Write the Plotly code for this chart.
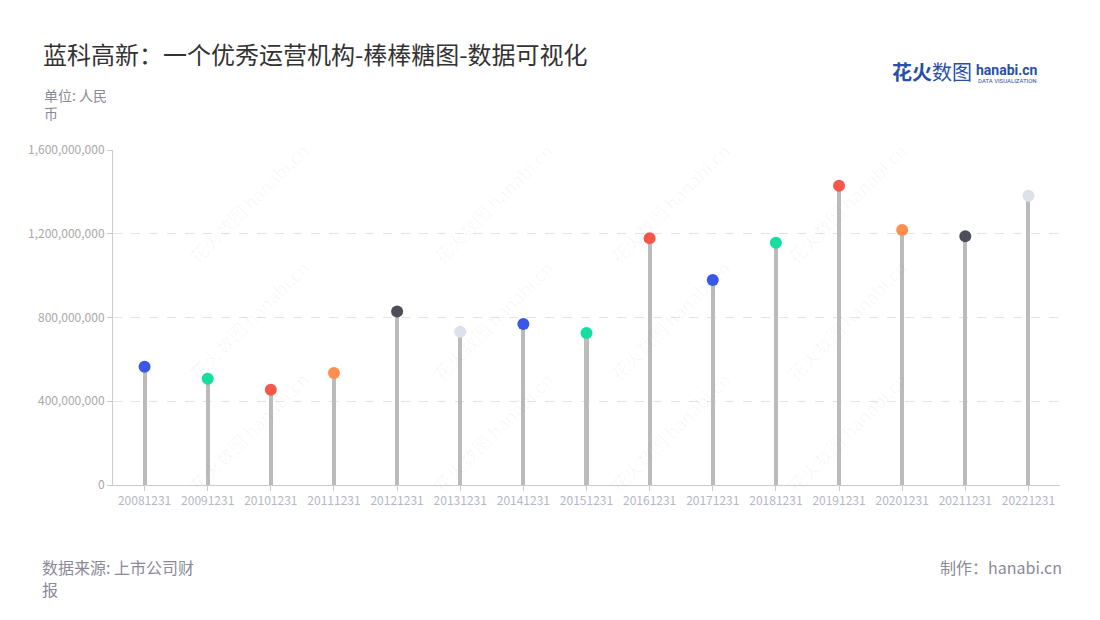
import plotly.graph_objects as go

categories = ["20081231", "20091231", "20101231", "20111231", "20121231", "20131231",
              "20141231", "20151231", "20161231", "20171231", "20181231", "20191231",
              "20201231", "20211231", "20221231"]
values = [565e6, 508e6, 455e6, 535e6, 829e6, 732e6, 769e6, 726e6,
          1178e6, 979e6, 1157e6, 1429e6, 1218e6, 1188e6, 1382e6]
dot_colors = ["#3a58e6", "#14dea0", "#f5574c", "#ff8d4f", "#4d4e58", "#dde1ea",
              "#3a58e6", "#14dea0", "#f5574c", "#3a58e6", "#14dea0", "#f5574c",
              "#ff8d4f", "#4d4e58", "#dde1ea"]
y_ticks = [0, 400e6, 800e6, 1200e6, 1600e6]
y_tick_labels = ["0", "400,000,000", "800,000,000", "1,200,000,000", "1,600,000,000"]

FONT = "Noto Sans CJK SC"

fig = go.Figure()
fig.add_trace(go.Bar(x=categories, y=values, width=0.065,
                     marker=dict(color="#bbbbbb", line=dict(width=0)),
                     hoverinfo="skip", showlegend=False))
fig.add_trace(go.Scatter(x=categories, y=values, mode="markers",
                         marker=dict(size=12, color=dot_colors, line=dict(width=0)),
                         showlegend=False))

# watermarks
wm_x = [0.0708, 0.329, 0.588, 0.847]
wm_y = [1.045, 0.4925, -0.045]
annotations = []
for wy in wm_y:
    for wx in wm_x:
        annotations.append(dict(xref="paper", yref="paper", x=wx, y=wy, text="花火数图 hanabi.cn",
                                showarrow=False, textangle=-45,
                                font=dict(family=FONT, size=18, color="rgba(0,0,0,0.035)")))

annotations += [
    dict(xref="paper", yref="paper", x=-0.075, y=1.199, xanchor="left", yanchor="top",
         text="单位: 人民<br>币", align="left", showarrow=False,
         font=dict(family=FONT, size=14, color="#8a8a99")),
    dict(xref="paper", yref="paper", x=-0.076, y=-0.2448, xanchor="left", yanchor="middle",
         text="数据来源: 上市公司财", align="left", showarrow=False, borderpad=0,
         font=dict(family=FONT, size=16, color="#8a8a99")),
    dict(xref="paper", yref="paper", x=-0.076, y=-0.3104, xanchor="left", yanchor="middle",
         text="报", align="left", showarrow=False, borderpad=0,
         font=dict(family=FONT, size=16, color="#8a8a99")),
    dict(xref="paper", yref="paper", x=1.003, y=-0.2448, xanchor="right", yanchor="middle",
         text="制作：hanabi.cn", align="right", showarrow=False, borderpad=0,
         font=dict(family=FONT, size=16, color="#8a8a99")),
    dict(xref="paper", yref="paper", x=0.909, y=1.233, xanchor="right", yanchor="middle",
         text="<b>花火</b>数图", showarrow=False,
         font=dict(family=FONT, size=20, color="#2a4fa8")),
    dict(xref="paper", yref="paper", x=0.979, y=1.24, xanchor="right", yanchor="middle",
         text="<b>hanabi.cn</b>", showarrow=False,
         font=dict(family="Roboto", size=14, color="#2a4fa8")),
    dict(xref="paper", yref="paper", x=0.978, y=1.207, xanchor="right", yanchor="middle",
         text="DATA VISUALIZATION", showarrow=False,
         font=dict(family="Roboto", size=6, color="#2a4fa8")),
]

fig.update_layout(
    width=1092, height=612,
    margin=dict(l=105, r=40, t=142, b=135),
    paper_bgcolor="white", plot_bgcolor="white",
    title=dict(text="蓝科高新：一个优秀运营机构-棒棒糖图-数据可视化",
               x=0.032, xanchor="left", y=0.923, yanchor="middle",
               font=dict(family=FONT, size=24, color="#333333")),
    bargap=0,
    annotations=annotations,
    xaxis=dict(type="category", showgrid=False, showline=True, linecolor="#cccccc", linewidth=1,
               ticks="outside", ticklen=5, tickcolor="#cccccc",
               tickfont=dict(family=FONT, size=12, color="#b3b7c4"),
               range=[-0.5, len(categories) - 0.5], fixedrange=True),
    yaxis=dict(range=[0, 1600e6], tickvals=y_ticks, ticktext=y_tick_labels,
               showgrid=True, gridcolor="#e3e3e3", griddash="dash", gridwidth=1,
               showline=True, linecolor="#cccccc", linewidth=1,
               ticks="outside", ticklen=5, tickcolor="#cccccc",
               zeroline=False,
               tickfont=dict(family=FONT, size=12, color="#a8a8a8")),
    font=dict(family=FONT),
)

fig.write_html("out.html")
